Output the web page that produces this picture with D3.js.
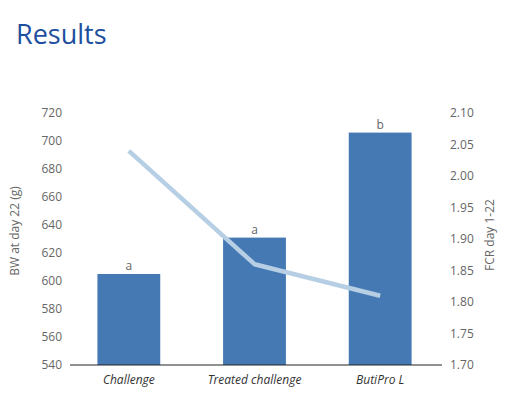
<!DOCTYPE html>
<html><head><meta charset="utf-8">
<script src="https://cdn.jsdelivr.net/npm/d3@7/dist/d3.min.js"></script>
<style>body{margin:0;background:#fff}</style>
</head><body><svg id="c" width="520" height="403"></svg>
<script>
const categories = ["Challenge", "Treated challenge", "ButiPro L"];
const bwValues = [605, 631, 706];
const bwLetters = ["a", "a", "b"];
const fcrValues = [2.04, 1.86, 1.81];
const leftTicks = [540, 560, 580, 600, 620, 640, 660, 680, 700, 720];
const rightTicks = [1.70, 1.75, 1.80, 1.85, 1.90, 1.95, 2.00, 2.05, 2.10];

const svg = d3.select("#c");
const font = "'Open Sans', 'Noto Sans', sans-serif";
const plotTop = 113, plotBottom = 365, plotLeft = 70, plotRight = 442;

const x = d3.scaleBand().domain(categories).range([66, 443]).paddingInner(0.5).paddingOuter(0.25);
const yL = d3.scaleLinear().domain([540, 720]).range([plotBottom, plotTop]);
const yR = d3.scaleLinear().domain([1.70, 2.10]).range([plotBottom, plotTop]);

svg.append("text").attr("x", 16).attr("y", 44).text("Results")
  .attr("font-family", font).attr("font-size", 27).attr("font-weight", 500).attr("fill", "#1d4f9e");

// bars
svg.selectAll("rect.bar").data(categories).enter().append("rect")
  .attr("x", d => x(d)).attr("width", x.bandwidth())
  .attr("y", (d, i) => yL(bwValues[i])).attr("height", (d, i) => plotBottom - yL(bwValues[i]))
  .attr("fill", "#4579b4");

svg.selectAll("text.lett").data(categories).enter().append("text")
  .attr("x", d => x(d) + x.bandwidth() / 2).attr("y", (d, i) => yL(bwValues[i]) - 4)
  .attr("text-anchor", "middle").text((d, i) => bwLetters[i])
  .attr("font-family", font).attr("font-size", 12).attr("fill", "#666");

// baseline
svg.append("line").attr("x1", plotLeft).attr("x2", plotRight).attr("y1", plotBottom).attr("y2", plotBottom)
  .attr("stroke", "#222").attr("stroke-width", 1.2);

// line
const line = d3.line().x((d, i) => x(categories[i]) + x.bandwidth() / 2).y(d => yR(d));
svg.append("path").datum(fcrValues).attr("d", line).attr("fill", "none")
  .attr("stroke", "#b7cfe4").attr("stroke-width", 4.5).attr("stroke-linejoin", "round");

// axes
const gL = svg.append("g").attr("transform", `translate(${plotLeft - 8},0)`)
  .call(d3.axisLeft(yL).tickValues(leftTicks).tickSize(0).tickPadding(0));
gL.select(".domain").remove();
gL.selectAll("text").attr("font-family", font).attr("font-size", 12).attr("fill", "#666");

const gR = svg.append("g").attr("transform", `translate(${plotRight + 8},0)`)
  .call(d3.axisRight(yR).tickValues(rightTicks).tickFormat(d3.format(".2f")).tickSize(0).tickPadding(0));
gR.select(".domain").remove();
gR.selectAll("text").attr("font-family", font).attr("font-size", 12).attr("fill", "#666");

const gX = svg.append("g").attr("transform", `translate(0,${plotBottom})`)
  .call(d3.axisBottom(x).tickSize(0).tickPadding(10));
gX.select(".domain").remove();
gX.selectAll("text").attr("font-family", font).attr("font-size", 12).attr("font-style", "italic").attr("fill", "#333");

svg.append("text").attr("transform", "translate(19,231) rotate(-90)").attr("text-anchor", "middle")
  .text("BW at day 22 (g)").attr("font-family", font).attr("font-size", 12).attr("fill", "#666");
svg.append("text").attr("transform", "translate(494,235) rotate(-90)").attr("text-anchor", "middle")
  .text("FCR day 1-22").attr("font-family", font).attr("font-size", 12).attr("fill", "#666");
</script></body></html>
